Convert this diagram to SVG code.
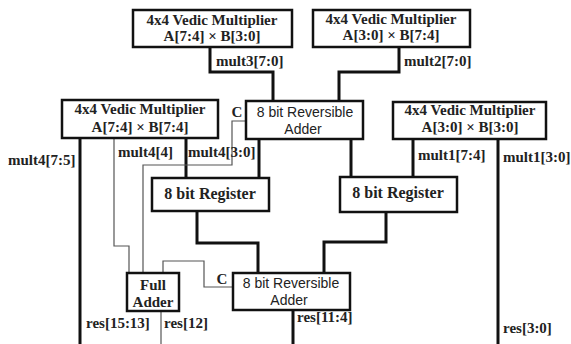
<svg xmlns="http://www.w3.org/2000/svg" width="571" height="344" viewBox="0 0 571 344">
<style>
.box{fill:#fff;stroke:#111;stroke-width:2.5}
.t{font-family:"Liberation Serif","Times New Roman",serif;font-weight:bold;font-size:15px;fill:#222;text-anchor:middle}
.lab{font-family:"Liberation Serif","Times New Roman",serif;font-weight:bold;font-size:15px;fill:#222}
.s{font-family:"Liberation Sans",Arial,sans-serif;font-size:14px;fill:#222;text-anchor:middle}
.reg{font-family:"Liberation Serif","Times New Roman",serif;font-weight:bold;font-size:16px;fill:#222;text-anchor:middle}
.thick{fill:none;stroke:#111;stroke-width:3}
.thin{fill:none;stroke:#555;stroke-width:1.2}
</style>
<rect width="571" height="344" fill="#fff"/>
<g id="connectors">
<polyline class="thick" points="210,47 210,72 273,72 273,101"/>
<polyline class="thick" points="399,47 399,72 339,72 339,101"/>
<polyline class="thick" points="80,138 80,344"/>
<polyline class="thin" points="114,138 114,246 129,246 129,273"/>
<polyline class="thick" points="186,138 186,178"/>
<polyline class="thin" points="246,121 232,121 232,165 143,165 143,273"/>
<polyline class="thick" points="259,139 259,178"/>
<polyline class="thick" points="351,139 351,177"/>
<polyline class="thick" points="413,139 413,177"/>
<polyline class="thick" points="498,139 498,344"/>
<polyline class="thick" points="197,211 197,243 258,243 258,273"/>
<polyline class="thick" points="386,212 386,242 324,242 324,273"/>
<polyline class="thin" points="233,287 204,287 204,261 163,261 163,273"/>
<polyline class="thin" points="161,311 161,344"/>
<polyline class="thick" points="293,310 293,344"/>
</g>
<g id="labels">
<text class="lab" x="216" y="66">mult3[7:0]</text>
<text class="lab" x="404" y="66">mult2[7:0]</text>
<text class="lab" x="8" y="165">mult4[7:5]</text>
<text class="lab" x="118" y="157">mult4[4]</text>
<text class="lab" x="188" y="157">mult4[3:0]</text>
<text class="lab" x="418" y="160">mult1[7:4]</text>
<text class="lab" x="503" y="162">mult1[3:0]</text>
<text class="lab" x="86" y="328">res[15:13]</text>
<text class="lab" x="164" y="328">res[12]</text>
<text class="lab" x="297" y="322">res[11:4]</text>
<text class="lab" x="503" y="333">res[3:0]</text>
<text class="t" x="237" y="117" font-size="14">C</text>
<text class="t" x="222" y="284" font-size="14">C</text>
</g>
<g id="mult3">
<rect class="box" x="133" y="10" width="159" height="37"/>
<text class="t" x="212" y="25">4x4 Vedic Multiplier</text>
<text class="t" x="212" y="41">A[7:4] × B[3:0]</text>
</g>
<g id="mult2">
<rect class="box" x="313" y="10" width="157" height="37"/>
<text class="t" x="391" y="24">4x4 Vedic Multiplier</text>
<text class="t" x="391" y="40">A[3:0] × B[7:4]</text>
</g>
<g id="mult4">
<rect class="box" x="62" y="100" width="156" height="38"/>
<text class="t" x="140" y="114">4x4 Vedic Multiplier</text>
<text class="t" x="140" y="132">A[7:4] × B[7:4]</text>
</g>
<g id="adder1">
<rect class="box" x="246" y="101" width="117" height="38"/>
<text class="s" x="305" y="117">8 bit Reversible</text>
<text class="s" x="303" y="134">Adder</text>
</g>
<g id="mult1">
<rect class="box" x="393" y="102" width="153" height="37"/>
<text class="t" x="470" y="115">4x4 Vedic Multiplier</text>
<text class="t" x="470" y="132">A[3:0] × B[3:0]</text>
</g>
<g id="register1">
<rect class="box" x="152" y="178" width="117" height="33"/>
<text class="reg" x="210" y="199">8 bit Register</text>
</g>
<g id="register2">
<rect class="box" x="340" y="177" width="117" height="35"/>
<text class="reg" x="398" y="198">8 bit Register</text>
</g>
<g id="fulladder">
<rect class="box" x="127" y="273" width="52" height="38"/>
<text class="t" x="153" y="290">Full</text>
<text class="t" x="153" y="307">Adder</text>
</g>
<g id="adder2">
<rect class="box" x="233" y="273" width="117" height="37"/>
<text class="s" x="291" y="288">8 bit Reversible</text>
<text class="s" x="289" y="305">Adder</text>
</g>
</svg>
